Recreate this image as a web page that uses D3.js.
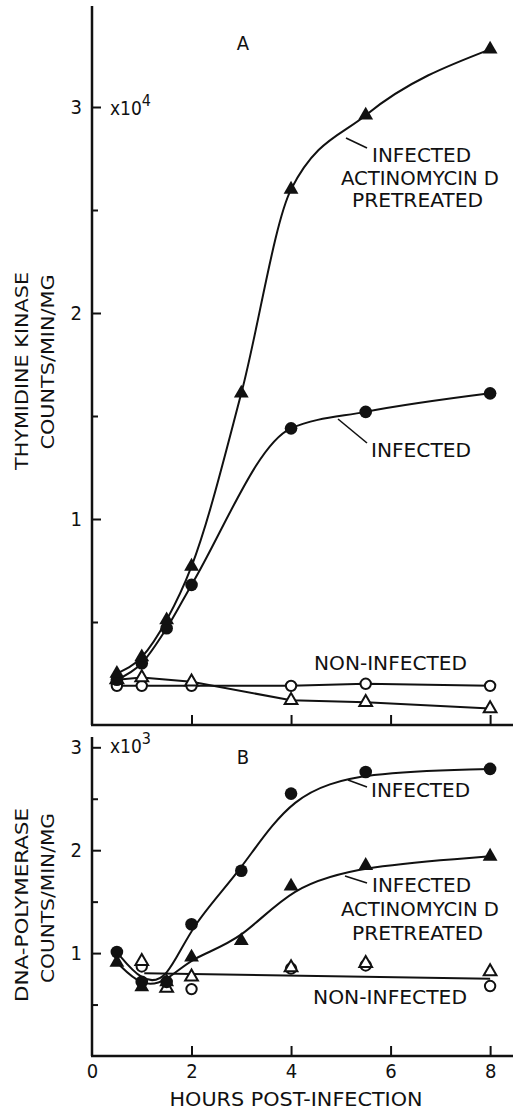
<!DOCTYPE html>
<html>
<head>
<meta charset="utf-8">
<script src="https://cdn.jsdelivr.net/npm/d3@7"></script>
<style>
	body { margin: 0; background: #fff; }
	text { font-family: "DejaVu Sans Condensed", "DejaVu Sans", sans-serif; fill: #111; }
</style>
</head>
<body>
<div id="chart"></div>
<script>
// panel A: thymidine kinase (x10^4 counts/min/mg)
const hoursA = [0.5, 1, 1.5, 2, 3, 4, 5.5, 8];
const tkActino = [0.25, 0.33, 0.51, 0.77, 1.61, 2.6, 2.96, 3.28];
const hoursInfA = [0.5, 1, 1.5, 2, 4, 5.5, 8];
const tkInfected = [0.22, 0.3, 0.47, 0.68, 1.44, 1.52, 1.61];
const hoursNonA = [0.5, 1, 2, 4, 5.5, 8];
const tkNonCircle = [0.19, 0.19, 0.19, 0.19, 0.2, 0.19];
const tkNonTriangle = [0.22, 0.23, 0.21, 0.12, 0.11, 0.08];

// panel B: DNA polymerase (x10^3 counts/min/mg)
const hoursB = [0.5, 1, 1.5, 2, 3, 4, 5.5, 8];
const polInfected = [1.01, 0.72, 0.72, 1.28, 1.8, 2.55, 2.76, 2.79];
const polActino = [0.91, 0.67, 0.72, 0.96, 1.12, 1.65, 1.85, 1.94];
const hoursNonCircleB = [1, 2, 4, 5.5, 8];
const polNonCircle = [0.87, 0.65, 0.85, 0.88, 0.68];
const hoursNonTriB = [1, 1.5, 2, 4, 5.5, 8];
const polNonTriangle = [0.92, 0.66, 0.77, 0.86, 0.9, 0.82];
const polNonFit = [[1.05, 0.805], [8, 0.75]];

const xTicks = [2, 4, 6, 8];
const xLabels = [0, 2, 4, 6, 8];
const yMajorA = [1, 2, 3];
const yMinorA = [0.5, 1.5, 2.5];
const yMajorB = [1, 2, 3];
const yMinorB = [0.5, 1.5, 2.5];

const w = 521;
const h = 1112;

const svg = d3.select("#chart").append("svg").attr("width", w).attr("height", h);

const x = d3.scaleLinear().domain([0, 8.46]).range([92, 513]);
const yA = d3.scaleLinear().domain([0, 3.5]).range([725, 4]);
const yB = d3.scaleLinear().domain([0, 3.1]).range([1056, 737]);

const zip = (xs, ys) => xs.map((d, i) => [d, ys[i]]);

const drawAxes = (y, top, majors, minors, showLabels) => {
	const base = y(0);
	svg.append("line").attr("x1", x(0)).attr("x2", x(0)).attr("y1", top).attr("y2", base)
		.attr("stroke", "#111").attr("stroke-width", 2.5);
	svg.append("line").attr("x1", x(0) - 1).attr("x2", x(8.46)).attr("y1", base).attr("y2", base)
		.attr("stroke", "#111").attr("stroke-width", 2.5);

	const major = svg.append("g").attr("transform", `translate(${x(0)},0)`)
		.call(d3.axisLeft(y).tickValues(majors).tickSize(-9).tickPadding(10).tickFormat(d3.format("d")));
	const minor = svg.append("g").attr("transform", `translate(${x(0)},0)`)
		.call(d3.axisLeft(y).tickValues(minors).tickSize(-6).tickFormat(""));
	[major, minor].forEach((g) => {
		g.select(".domain").remove();
		g.selectAll("line").attr("stroke", "#111").attr("stroke-width", 2);
		g.selectAll("text").attr("font-size", 20).attr("fill", "#111")
			.style("font-family", "'DejaVu Sans Condensed', sans-serif");
	});

	const xa = svg.append("g").attr("transform", `translate(0,${base})`)
		.call(d3.axisBottom(x).tickValues(xTicks).tickSize(-10).tickFormat(""));
	xa.select(".domain").remove();
	xa.selectAll("line").attr("stroke", "#111").attr("stroke-width", 2);

	if (showLabels) {
		const xl = svg.append("g").attr("transform", `translate(0,${base})`)
			.call(d3.axisBottom(x).tickValues(xLabels).tickSize(0).tickPadding(8).tickFormat(d3.format("d")));
		xl.select(".domain").remove();
		xl.selectAll("text").attr("font-size", 20).attr("fill", "#111")
			.style("font-family", "'DejaVu Sans Condensed', sans-serif");
	}
};

drawAxes(yA, 6, yMajorA, yMinorA, false);
drawAxes(yB, 737, yMajorB, yMinorB, true);

const drawLine = (pts, y, curve) => {
	svg.append("path")
		.attr("d", d3.line().curve(curve).x((d) => x(d[0])).y((d) => y(d[1]))(pts))
		.attr("fill", "none").attr("stroke", "#111").attr("stroke-width", 2);
};

// panel A lines
drawLine(zip(hoursA, tkActino), yA, d3.curveMonotoneX);
drawLine(zip(hoursInfA, tkInfected), yA, d3.curveMonotoneX);
drawLine(zip(hoursNonA, tkNonCircle), yA, d3.curveLinear);
drawLine(zip(hoursNonA, tkNonTriangle), yA, d3.curveLinear);

// panel B lines (smoothed fits)
drawLine(zip(hoursB, polInfected), yB, d3.curveBasis);
drawLine(zip(hoursB, polActino), yB, d3.curveBasis);
drawLine(polNonFit, yB, d3.curveLinear);

const triangle = d3.symbol().type(d3.symbolTriangle);
const drawMarkers = (pts, y, kind) => {
	const g = svg.append("g");
	pts.forEach((p) => {
		const cx = x(p[0]);
		const cy = y(p[1]);
		if (kind === "openCircle") {
			g.append("circle").attr("cx", cx).attr("cy", cy).attr("r", 5.2)
				.attr("fill", "#fff").attr("stroke", "#111").attr("stroke-width", 2);
		} else if (kind === "fillCircle") {
			g.append("circle").attr("cx", cx).attr("cy", cy).attr("r", 6.3).attr("fill", "#111");
		} else if (kind === "openTri") {
			g.append("path").attr("d", triangle.size(70)()).attr("transform", `translate(${cx},${cy})`)
				.attr("fill", "#fff").attr("stroke", "#111").attr("stroke-width", 2);
		} else {
			g.append("path").attr("d", triangle.size(95)()).attr("transform", `translate(${cx},${cy})`)
				.attr("fill", "#111");
		}
	});
};

drawMarkers(zip(hoursNonA, tkNonCircle), yA, "openCircle");
drawMarkers(zip(hoursNonA, tkNonTriangle), yA, "openTri");
drawMarkers(zip(hoursInfA, tkInfected), yA, "fillCircle");
drawMarkers(zip(hoursA, tkActino), yA, "fillTri");

drawMarkers(zip(hoursNonCircleB, polNonCircle), yB, "openCircle");
drawMarkers(zip(hoursNonTriB, polNonTriangle), yB, "openTri");
drawMarkers(zip(hoursB, polInfected), yB, "fillCircle");
drawMarkers(zip(hoursB, polActino), yB, "fillTri");

// text
const label = (txt, tx, ty, size, len, anchor) => {
	const t = svg.append("text").attr("x", tx).attr("y", ty).attr("font-size", size)
		.attr("text-anchor", anchor || "start").text(txt);
	if (len) t.attr("textLength", len).attr("lengthAdjust", "spacingAndGlyphs");
	return t;
};
const leader = (x1, y1, x2, y2) => {
	svg.append("line").attr("x1", x1).attr("y1", y1).attr("x2", x2).attr("y2", y2)
		.attr("stroke", "#111").attr("stroke-width", 1.6);
};

label("A", 243, 50, 20, null, "middle");
label("B", 243, 764, 20, null, "middle");

const power = (tx, ty, exp) => {
	const t = svg.append("text").attr("x", tx).attr("y", ty).attr("font-size", 19);
	t.append("tspan").text("x10");
	t.append("tspan").attr("dy", -9).attr("font-size", 16).text(exp);
};
power(110, 115, "4");
power(110, 753, "3");

// panel A labels
leader(346, 138, 367, 148);
label("INFECTED", 372, 162, 19, 99);
label("ACTINOMYCIN D", 341, 185, 19, 158);
label("PRETREATED", 352, 207, 19, 131);
leader(338, 419, 367, 443);
label("INFECTED", 371, 457, 19, 100);
label("NON-INFECTED", 314, 670, 19, 153);

// panel B labels
leader(348, 780, 367, 787);
label("INFECTED", 371, 797, 19, 99);
leader(345, 876, 367, 883);
label("INFECTED", 372, 892, 19, 99);
label("ACTINOMYCIN D", 341, 916, 19, 158);
label("PRETREATED", 352, 940, 19, 131);
label("NON-INFECTED", 313, 1004, 19, 154);

label("HOURS POST-INFECTION", 296, 1106, 19, 253, "middle");

const vlabel = (txt, cx, cy, len) => {
	svg.append("text").attr("transform", `translate(${cx},${cy}) rotate(-90)`)
		.attr("font-size", 18).attr("text-anchor", "middle")
		.attr("textLength", len).attr("lengthAdjust", "spacingAndGlyphs").text(txt);
};
vlabel("THYMIDINE KINASE", 28, 371, 198);
vlabel("COUNTS/MIN/MG", 54, 362, 175);
vlabel("DNA-POLYMERASE", 28, 905, 194);
vlabel("COUNTS/MIN/MG", 54, 898, 170);
</script>
</body>
</html>
